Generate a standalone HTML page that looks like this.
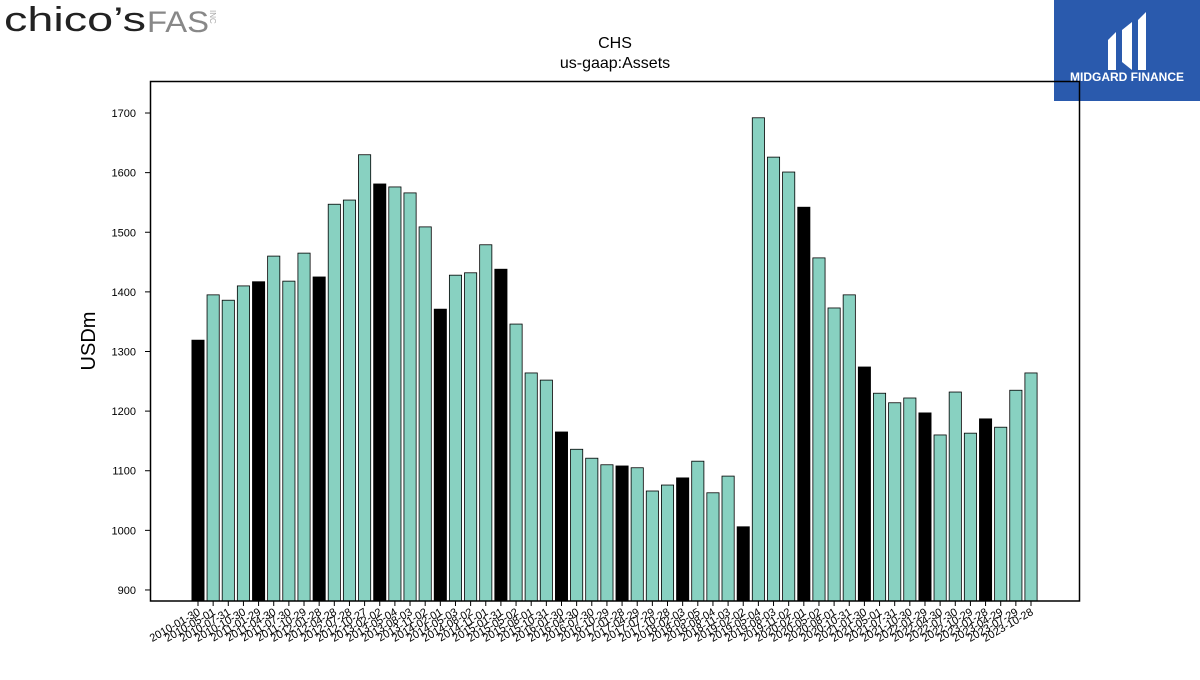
<!DOCTYPE html>
<html><head><meta charset="utf-8"><style>
body{margin:0;background:#fff;width:1200px;height:675px;overflow:hidden;font-family:"Liberation Sans",sans-serif}
</style></head><body>
<svg width="1200" height="675" xmlns="http://www.w3.org/2000/svg">
<g>
<text x="4" y="31" font-size="34" font-family="Liberation Sans" fill="#222" textLength="142" lengthAdjust="spacingAndGlyphs">chico’s</text>
<text x="147" y="32" font-size="30" font-family="Liberation Sans" fill="#888" textLength="62" lengthAdjust="spacingAndGlyphs">FAS</text>
<text x="210" y="10" font-size="8" fill="#aaa" transform="rotate(90 210 10)">INC</text>
</g>
<g>
<rect x="1054" y="0" width="146" height="101" fill="#2a5aad"/>
<path d="M1108 40 L1116 32 L1116 70 L1108 70 Z M1122 30 L1132 22 L1132 70 L1122 62 Z M1138 20 L1146 12 L1146 70 L1138 70 Z" fill="#fff"/>
<text x="1127" y="81" font-size="12" font-weight="bold" fill="#fff" text-anchor="middle">MIDGARD FINANCE</text>
</g>
<text x="615" y="48" font-size="16" text-anchor="middle">CHS</text>
<text x="615" y="68" font-size="16" text-anchor="middle">us-gaap:Assets</text>
<text transform="translate(95 341) rotate(-90)" font-size="20" text-anchor="middle">USDm</text>
<g id="plot"></g>
<rect x="150.5" y="81.5" width="929" height="519.5" fill="none" stroke="#000" stroke-width="1.5"/>
</svg>
<script>
const categories=["2010-01-30","2010-05-01","2010-07-31","2010-10-30","2011-01-29","2011-04-30","2011-07-30","2011-10-29","2012-01-28","2012-04-28","2012-07-28","2012-10-27","2013-02-02","2013-05-04","2013-08-03","2013-11-02","2014-02-01","2014-05-03","2014-08-02","2014-11-01","2015-01-31","2015-05-02","2015-08-01","2015-10-31","2016-01-30","2016-04-30","2016-07-30","2016-10-29","2017-01-28","2017-04-29","2017-07-29","2017-10-28","2018-02-03","2018-05-05","2018-08-04","2018-11-03","2019-02-02","2019-05-04","2019-08-03","2019-11-02","2020-02-01","2020-05-02","2020-08-01","2020-10-31","2021-01-30","2021-05-01","2021-07-31","2021-10-30","2022-01-29","2022-04-30","2022-07-30","2022-10-29","2023-01-28","2023-04-29","2023-07-29","2023-10-28"];
const values=[1319,1395,1386,1410,1417,1460,1418,1465,1425,1547,1554,1630,1581,1576,1566,1509,1371,1428,1432,1479,1438,1346,1264,1252,1165,1136,1121,1110,1108,1105,1066,1076,1088,1116,1063,1091,1006,1692,1626,1601,1542,1457,1373,1395,1274,1230,1214,1222,1197,1160,1232,1163,1187,1173,1235,1264];
const yTicks=[900,1000,1100,1200,1300,1400,1500,1600,1700];
const NS="http://www.w3.org/2000/svg";
const g=document.getElementById('plot');
const yMin=881.5,yMax=1753.7,plotTop=81,plotBot=601;
function y(v){return plotBot-(v-yMin)/(yMax-yMin)*(plotBot-plotTop);}
const x0=198,x1=1031;
function x(i){return x0+i*(x1-x0)/(categories.length-1);}
function mk(t,a){const e=document.createElementNS(NS,t);for(const k in a)e.setAttribute(k,a[k]);g.appendChild(e);return e;}
yTicks.forEach(t=>{
  const l=mk('line',{x1:145,x2:150,y1:y(t),y2:y(t),stroke:'#000'});
  
  
  const tx=mk('text',{x:136,y:y(t)+4,'font-size':11,'text-anchor':'end'});
  tx.textContent=t;
  
  
});
const bw=12.2;
categories.forEach((c,i)=>{
  const yy=y(values[i]);
  const r=mk('rect',{x:x(i)-bw/2,y:yy,width:bw,height:plotBot-yy,fill:(i%4===0)?'#000':'#88d1c1',stroke:'#000','stroke-width':0.8});
  
  
  const t=mk('line',{x1:x(i),x2:x(i),y1:601,y2:606,stroke:'#000'});
  
  
  const lb=mk('text',{x:x(i)+3,y:614,'font-size':11,'text-anchor':'end',transform:`rotate(-30 ${x(i)+3} 614)`});
  lb.textContent=c;
  
  
});
</script>
</body></html>
